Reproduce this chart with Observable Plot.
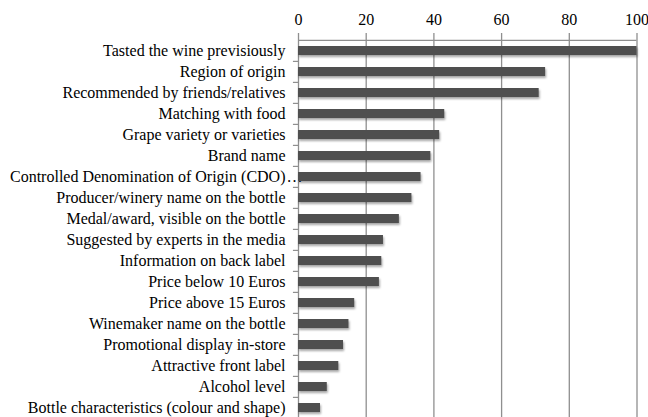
<!DOCTYPE html>
<html><head><meta charset="utf-8">
<script src="https://cdn.jsdelivr.net/npm/d3@7"></script>
<script src="https://cdn.jsdelivr.net/npm/@observablehq/plot@0.6"></script>
<style>
html,body{margin:0;padding:0;overflow:hidden;background:#fff;}
#chart svg text{font-family:"Liberation Serif","Times New Roman",serif !important;font-size:16px !important;fill:#000;}
#chart svg g[aria-label="bar"] rect{filter:drop-shadow(1.5px 2px 1.2px rgba(0,0,0,0.35));}
</style>
</head><body><div id="chart"></div>
<script>
const categories = [
  "Tasted the wine previsiously",
  "Region of origin",
  "Recommended by friends/relatives",
  "Matching with food",
  "Grape variety or varieties",
  "Brand name",
  "Controlled Denomination of Origin (CDO)",
  "Producer/winery name on the bottle",
  "Medal/award, visible on the bottle",
  "Suggested by experts in the media",
  "Information on back label",
  "Price below 10 Euros",
  "Price above 15 Euros",
  "Winemaker name on the bottle",
  "Promotional display in-store",
  "Attractive front label",
  "Alcohol level",
  "Bottle characteristics (colour and shape)"
];
const values = [100, 73.0, 71.1, 43.2, 41.7, 39.1, 36.2, 33.5, 29.8, 25.1, 24.6, 23.9, 16.6, 14.9, 13.3, 11.9, 8.5, 6.5];
const xTicks = [0, 20, 40, 60, 80, 100];
const truncated = ["Controlled Denomination of Origin (CDO)"];

const data = categories.map((c, i) => ({category: c, value: values[i]}));
const width = 648, height = 420, marginTop = 38, marginBottom = 0;
const step = (height - marginTop - marginBottom) / categories.length;
const gridColor = "#8f8f8f";

const chart = Plot.plot({
  width, height, marginTop, marginBottom, marginLeft: 298, marginRight: 11.5,
  style: {fontFamily: '"Liberation Serif", "Times New Roman", serif', fontSize: "16px", color: "#000", background: "#fff", overflow: "visible"},
  x: {domain: [0, 100], axis: "top", ticks: xTicks, tickSize: 0, tickPadding: 14, label: null},
  y: {domain: categories, paddingInner: 0.57, paddingOuter: 0.285, label: null, tickSize: 0, tickPadding: 13},
  marks: [
    Plot.text(truncated, {y: d => d, x: 0, text: () => "\u2026", textAnchor: "start", dx: -12}),
    Plot.ruleX(xTicks, {stroke: gridColor, strokeWidth: 1.3, insetTop: -5}),
    Plot.ruleY(categories.slice(0, 1), {y: d => d, x1: 0, x2: 100, dy: -step / 2, stroke: gridColor, strokeWidth: 1.3}),
    Plot.ruleY(categories.slice(1), {y: d => d, x1: -1.5, x2: 0, dy: -step / 2, stroke: gridColor, strokeWidth: 1.2}),
    Plot.barX(data, {y: "category", x: "value", fill: "#4f4f4f"})
  ]
});
document.getElementById("chart").appendChild(chart);
</script>
</body></html>
